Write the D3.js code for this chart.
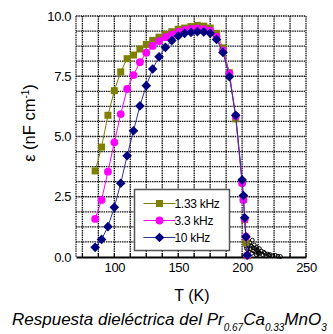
<!DOCTYPE html>
<html>
<head>
<meta charset="utf-8">
<script src="https://cdn.jsdelivr.net/npm/d3@7"></script>
<style>
body { margin: 0; background: #fff; }
text { font-family: "Liberation Sans", Arial, sans-serif; }
</style>
</head>
<body>
<div id="chart"></div>
<script>
var width = 333,
height = 334;

// temperatures (K)
var temps = [85, 90, 95, 100, 105, 110, 115, 120, 125, 130, 135, 140, 145, 150, 155, 160,
  165, 170, 175, 180, 185, 190, 195, 200, 201, 202, 203, 204];

// permittivity per frequency
var eps133 = [3.57, 4.56, 5.88, 6.9, 7.68, 8.23, 8.38, 8.63, 8.82, 8.99, 9.12, 9.24, 9.35, 9.45, 9.5, 9.56,
  9.61, 9.58, 9.5, 9.28, 8.68, 7.65, 5.73, 3.12, 2.4, 1.55, 0.6, 0.05];
var eps33 = [1.58, 2.37, 3.54, 4.76, 5.93, 6.97, 7.55, 8.08, 8.48, 8.76, 8.96, 9.12, 9.23, 9.34, 9.42, 9.46,
  9.49, 9.45, 9.39, 9.14, 8.56, 7.62, 5.85, 3.06, 2.37, 1.58, 0.84, 0.07];
var eps10 = [0.4, 0.73, 1.26, 2.06, 3.06, 4.2, 5.24, 6.27, 7.11, 7.8, 8.31, 8.7, 8.98, 9.17, 9.28, 9.32,
  9.35, 9.34, 9.28, 9.03, 8.49, 7.48, 5.88, 3.2, 2.55, 1.63, 0.84, 0.07];

// noisy tail data above 200 K (open circles)
var tailT = [203, 203.5, 204, 204.5, 205, 205.5, 206, 206.5, 207, 207.5, 208, 208.5, 209, 209.5, 210, 210.5,
  211, 211.5, 212, 212.5, 213, 213.5, 214, 215, 216, 217, 218, 219, 220, 221, 222, 224, 226, 228, 230];
var tailE = [0.45, 0.35, 0.55, 0.3, 0.5, 0.2, 0.6, 0.35, 0.45, 0.15, 0.7, 0.4, 0.25, 0.5, 0.35, 0.2,
  0.1, 0.4, 0.3, 0.15, 0.2, 0.35, 0.15, 0.25, 0.1, 0.2, 0.15, 0.05, 0.12, 0.08, 0.1, 0.05, 0.07, 0.03, 0.02];

var series = [
  {name: "1.33 kHz", values: eps133, color: "#808000", line: "#808000", shape: "square"},
  {name: "3.3 kHz", values: eps33, color: "#ff00ff", line: "#ff00ff", shape: "circle"},
  {name: "10 kHz", values: eps10, color: "#000080", line: "#3333a0", shape: "diamond"}
];

var xTicks = [100, 150, 200, 250];
var yTicks = [0, 2.5, 5, 7.5, 10];

var pLeft = 76, pRight = 306, pTop = 16, pBottom = 257;

var svg = d3.select('#chart').append('svg')
  .attr('width', width)
  .attr('height', height);

var scaleX = d3.scaleLinear().domain([70, 250]).range([pLeft, pRight]);
var scaleY = d3.scaleLinear().domain([0, 10]).range([pBottom, pTop]);

// grid
var gridX = d3.range(75, 250.1, 12.5);
var gridY = d3.range(0.625, 10.01, 0.625);
var grid = svg.append('g');
grid.selectAll('.gx').data(gridX).enter().append('line')
  .attr('x1', d => scaleX(d)).attr('x2', d => scaleX(d))
  .attr('y1', pTop).attr('y2', pBottom)
  .attr('stroke', '#111').attr('stroke-width', 1.3)
  .attr('stroke-dasharray', '1.5,0.8');
grid.selectAll('.gy').data(gridY).enter().append('line')
  .attr('x1', pLeft).attr('x2', pRight)
  .attr('y1', d => scaleY(d)).attr('y2', d => scaleY(d))
  .attr('stroke', '#111').attr('stroke-width', 1.3)
  .attr('stroke-dasharray', '1.5,0.8');
grid.append('line').attr('x1', pLeft).attr('x2', pLeft).attr('y1', pTop).attr('y2', pBottom)
  .attr('stroke', '#222').attr('stroke-width', 1.3).attr('stroke-dasharray', '1.5,0.8');

// axes
var axisB = d3.axisBottom(scaleX).tickValues(xTicks).tickSize(0).tickPadding(6);
var axisL = d3.axisLeft(scaleY).tickValues(yTicks).tickSize(0).tickPadding(5).tickFormat(d3.format('.1f'));

var gx = svg.append('g').attr('transform', 'translate(0,' + pBottom + ')').call(axisB);
gx.select('.domain').attr('stroke', '#000').attr('stroke-width', 2);
gx.selectAll('text').attr('font-size', 13).attr('fill', '#000').attr('letter-spacing', -0.4);

var gy = svg.append('g').attr('transform', 'translate(' + pLeft + ',0)').call(axisL);
gy.select('.domain').remove();
gy.selectAll('text').attr('font-size', 13).attr('fill', '#000').attr('letter-spacing', -0.4);

// minor ticks along bottom
svg.append('g').selectAll('line').data(gridX).enter().append('line')
  .attr('x1', d => scaleX(d)).attr('x2', d => scaleX(d))
  .attr('y1', pBottom).attr('y2', pBottom - 4)
  .attr('stroke', '#000').attr('stroke-width', 1);

var plot = svg.append('g');

function drawMarker(sel, shape, color) {
  if (shape === 'square') {
    sel.append('rect').attr('x', -3.5).attr('y', -3.5).attr('width', 7).attr('height', 7).attr('fill', color);
  } else if (shape === 'circle') {
    sel.append('circle').attr('r', 3.9).attr('fill', color);
  } else {
    sel.append('path').attr('d', 'M0,-4.8L4.8,0L0,4.8L-4.8,0Z').attr('fill', color);
  }
}

// tail circles
plot.selectAll('.tail').data(tailT).enter().append('circle')
  .attr('cx', d => scaleX(d))
  .attr('cy', (d, i) => scaleY(tailE[i]))
  .attr('r', 1.9)
  .attr('fill', 'none')
  .attr('stroke', '#000')
  .attr('stroke-width', 1);

var lineFunc = d3.line()
  .x((d, i) => scaleX(temps[i]))
  .y(d => scaleY(d));

series.forEach(function(s) {
  plot.append('path')
    .attr('d', lineFunc(s.values))
    .attr('fill', 'none')
    .attr('stroke', s.line)
    .attr('stroke-width', 1);
  plot.selectAll('.m' + s.shape).data(s.values).enter().append('g')
    .attr('transform', (d, i) => 'translate(' + scaleX(temps[i]) + ',' + scaleY(d) + ')')
    .each(function() { drawMarker(d3.select(this), s.shape, s.color); });
});

// legend
var lg = svg.append('g').attr('transform', 'translate(134.5,189.5)');
lg.append('rect').attr('width', 95).attr('height', 61)
  .attr('fill', '#fff').attr('stroke', '#555').attr('stroke-width', 1.5);
series.forEach(function(s, i) {
  var row = lg.append('g').attr('transform', 'translate(0,' + (14 + i * 17) + ')');
  row.append('line').attr('x1', 9).attr('x2', 41).attr('y1', 0).attr('y2', 0)
    .attr('stroke', s.line).attr('stroke-width', 1);
  var m = row.append('g').attr('transform', 'translate(25,0)');
  drawMarker(m, s.shape, s.color);
  row.append('text').attr('x', 40).attr('y', 4.5).attr('font-size', 12)
    .attr('letter-spacing', -0.3).text(s.name);
});

// axis titles
svg.append('text').attr('x', 192).attr('y', 301).attr('text-anchor', 'middle')
  .attr('font-size', 16).text('T (K)');

var yt = svg.append('text').attr('transform', 'translate(35,123) rotate(-90)')
  .attr('text-anchor', 'middle').attr('font-size', 16.5);
yt.append('tspan').text('ε (nF cm');
yt.append('tspan').attr('font-size', 10).attr('dy', -6).text('-1');
yt.append('tspan').attr('dy', 6).text(')');

// caption
var cap = svg.append('text').attr('x', 12).attr('y', 325)
  .attr('font-size', 17).attr('font-style', 'italic');
cap.append('tspan').text('Respuesta dieléctrica del Pr');
cap.append('tspan').attr('font-size', 10).attr('dy', 6).text('0.67');
cap.append('tspan').attr('dy', -6).text('Ca');
cap.append('tspan').attr('font-size', 10).attr('dy', 6).text('0.33');
cap.append('tspan').attr('dy', -6).text('MnO');
cap.append('tspan').attr('font-size', 10).attr('dy', 6).text('3');
</script>
</body>
</html>
